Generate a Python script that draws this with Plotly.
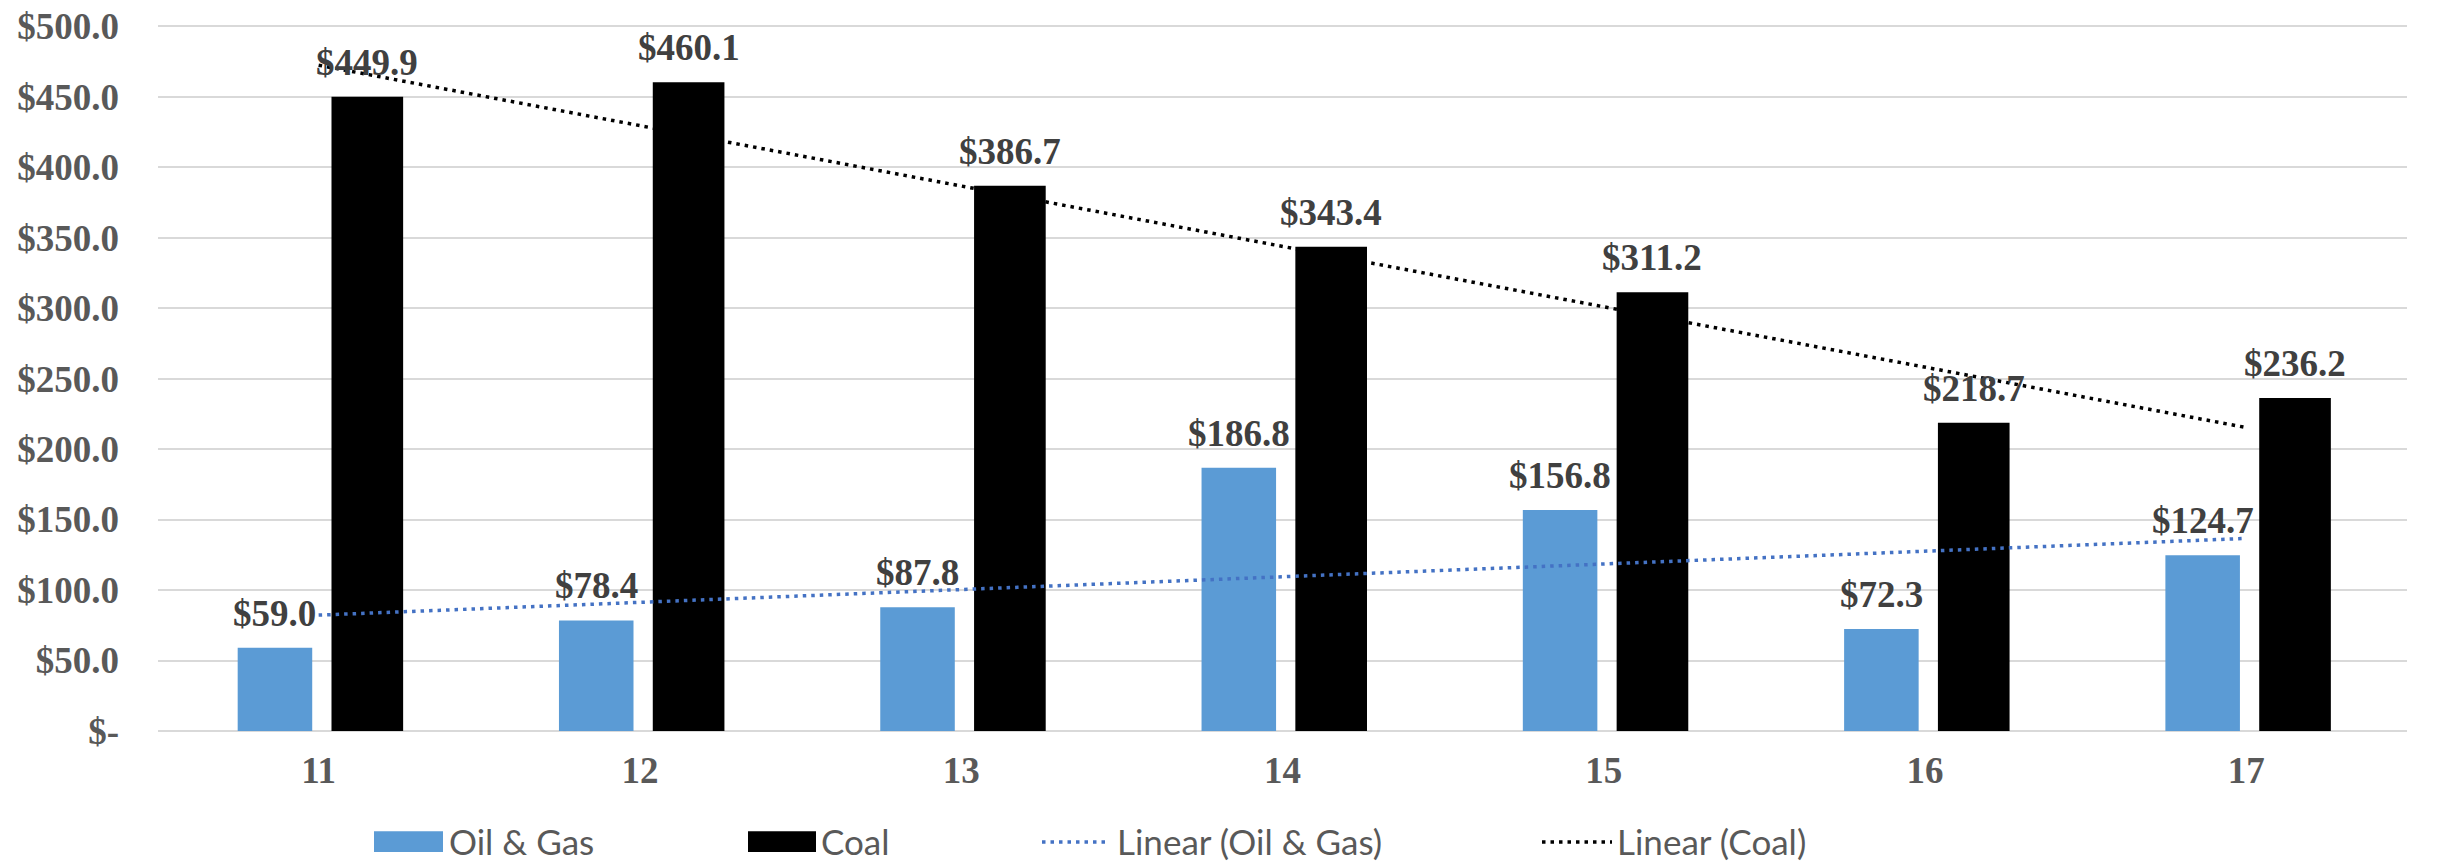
import numpy as np
import plotly.graph_objects as go

# ---------------- data ----------------
categories = ["11", "12", "13", "14", "15", "16", "17"]
oil_gas = [59.0, 78.4, 87.8, 186.8, 156.8, 72.3, 124.7]
coal = [449.9, 460.1, 386.7, 343.4, 311.2, 218.7, 236.2]
y_tickvals = [0, 50, 100, 150, 200, 250, 300, 350, 400, 450, 500]
y_ticktext = ["$-", "$50.0", "$100.0", "$150.0", "$200.0", "$250.0",
              "$300.0", "$350.0", "$400.0", "$450.0", "$500.0"]
legend_names = ["Oil & Gas", "Coal", "Linear (Oil & Gas)", "Linear (Coal)"]

# ---------------- styling ----------------
W, H = 2453, 863
L, R, T, B = 158, 46, 6, 132
OIL_COLOR = "#5B9BD5"
COAL_COLOR = "#000000"
OIL_TREND = "#4472C4"
GRID = "#D9D9D9"
SERIF = "Liberation Serif"
SANS = "Lato"
DOT = "3.5px,5px"

OIL_OFF, OIL_W = -0.252, 0.232
COAL_OFF, COAL_W = 0.040, 0.223

x = np.arange(len(categories))

# linear trendlines (least squares, as the spreadsheet trendline)
oil_fit = np.polyval(np.polyfit(x, oil_gas, 1), x)
coal_fit = np.polyval(np.polyfit(x, coal, 1), x)

fig = go.Figure()
fig.add_trace(go.Bar(x=x, y=oil_gas, offset=OIL_OFF, width=OIL_W,
                     marker=dict(color=OIL_COLOR, line=dict(width=0)),
                     name=legend_names[0], showlegend=False))
fig.add_trace(go.Bar(x=x, y=coal, offset=COAL_OFF, width=COAL_W,
                     marker=dict(color=COAL_COLOR, line=dict(width=0)),
                     name=legend_names[1], showlegend=False))
fig.add_trace(go.Scatter(x=x, y=oil_fit, mode="lines",
                         line=dict(color=OIL_TREND, width=3.5, dash=DOT),
                         name=legend_names[2], showlegend=False))
fig.add_trace(go.Scatter(x=x, y=coal_fit, mode="lines",
                         line=dict(color=COAL_COLOR, width=3.5, dash=DOT),
                         name=legend_names[3], showlegend=False))

# data labels
for i in range(len(categories)):
    for val, off, w in ((oil_gas[i], OIL_OFF, OIL_W), (coal[i], COAL_OFF, COAL_W)):
        fig.add_annotation(x=x[i] + off + w / 2, y=val, text=f"${val:.1f}",
                           showarrow=False, xanchor="center", yanchor="bottom",
                           yshift=12,
                           font=dict(family=SERIF, size=37, color="#404040", weight="bold"))

# custom legend (pixel positions converted to paper coords)
def px(p):
    return (p - L) / (W - L - R)

def py(q):
    return (H - B - q) / (H - T - B)

swatches = [(374, 443, OIL_COLOR), (748, 816, COAL_COLOR)]
for x0, x1, c in swatches:
    fig.add_shape(type="rect", xref="paper", yref="paper",
                  x0=px(x0), x1=px(x1), y0=py(853), y1=py(832),
                  fillcolor=c, line=dict(width=0))
lines = [(1042, 1110, OIL_TREND), (1542, 1612, COAL_COLOR)]
for x0, x1, c in lines:
    fig.add_shape(type="line", xref="paper", yref="paper",
                  x0=px(x0), x1=px(x1), y0=py(843), y1=py(843),
                  line=dict(color=c, width=3.5, dash=DOT))
text_x = [450, 822, 1118, 1618]
for tx, name in zip(text_x, legend_names):
    fig.add_annotation(xref="paper", yref="paper", x=px(tx), y=py(842),
                       text=name, showarrow=False, xanchor="left", yanchor="middle",
                       xshift=-3,
                       font=dict(family=SANS, size=35, color="#595959"))

fig.update_layout(
    width=W, height=H,
    margin=dict(l=L, r=R, t=T, b=B, pad=0),
    paper_bgcolor="white", plot_bgcolor="white",
    showlegend=False,
    xaxis=dict(range=[-0.5, len(categories) - 0.5], tickvals=list(x), ticktext=categories,
               showgrid=False, zeroline=False, showline=False, ticks="",
               ticklabelstandoff=14,
               tickfont=dict(family=SERIF, size=37, color="#595959", weight="bold")),
    yaxis=dict(range=[0, 510], tickvals=y_tickvals, ticktext=y_ticktext,
               showgrid=True, gridcolor=GRID, gridwidth=2,
               zeroline=True, zerolinecolor=GRID, zerolinewidth=2,
               showline=False, ticks="", ticklabelstandoff=38,
               tickfont=dict(family=SERIF, size=37, color="#595959", weight="bold")),
)

fig.write_html(
    "out.html",
    config={"displayModeBar": False},
    post_script="document.body.style.margin='0';document.body.style.overflow='hidden';",
)
